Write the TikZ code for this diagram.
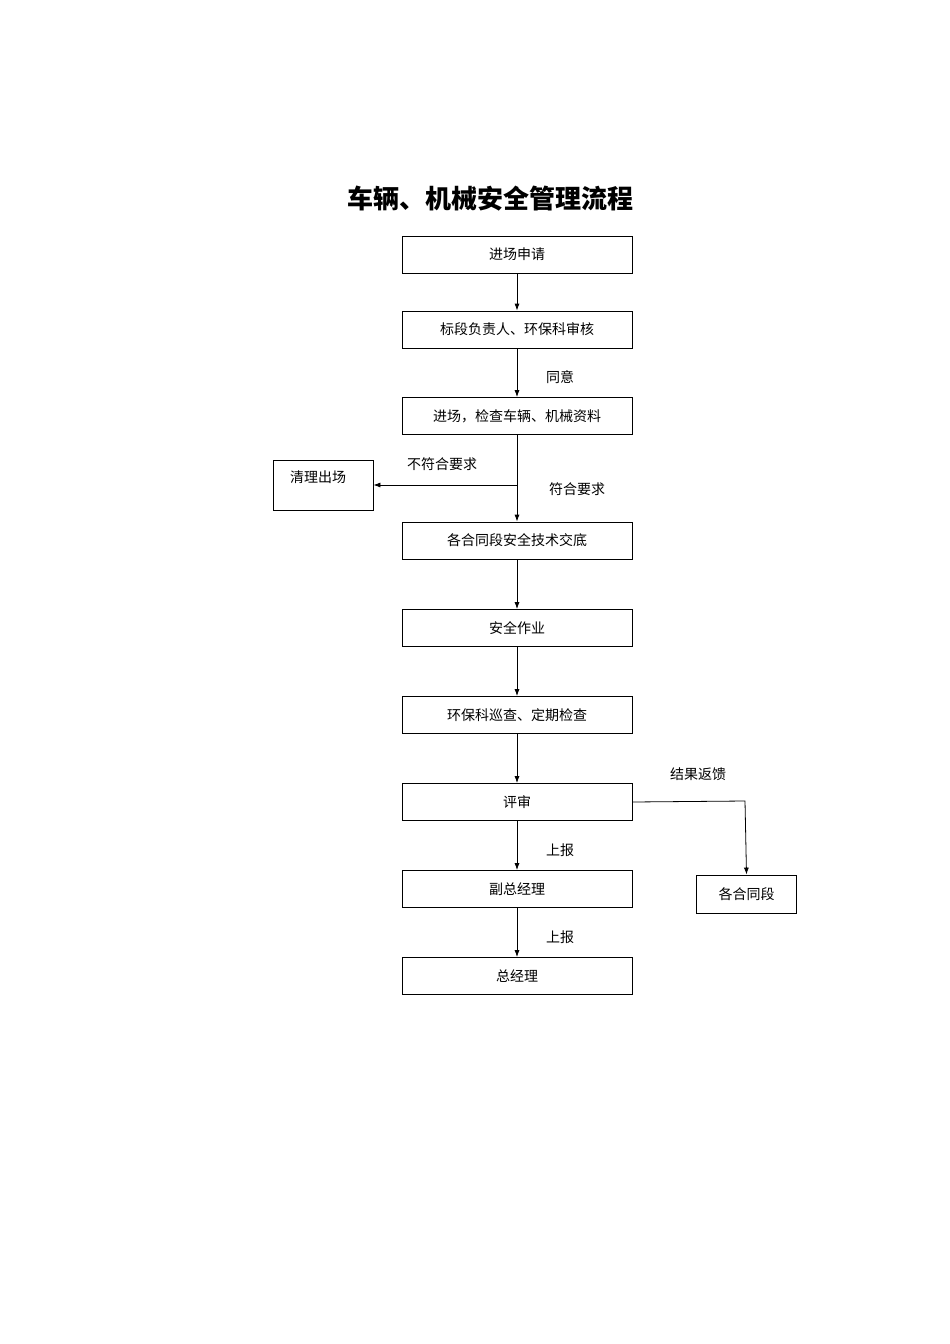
\documentclass[tikz,border=0pt]{standalone}
\usepackage{fontspec}
\setmainfont{Noto Sans CJK SC}
\usetikzlibrary{arrows.meta}
\begin{document}
\begin{tikzpicture}[x=1pt,y=-1pt,
  box/.style={draw,line width=0.8pt,minimum width=230pt,minimum height=37pt,inner sep=0pt,font=\fontsize{14}{16}\selectfont},
  sbox/.style={draw,line width=0.8pt,minimum width=100pt,minimum height=38pt,inner sep=0pt,font=\fontsize{14}{16}\selectfont},
  lab/.style={font=\fontsize{14}{16}\selectfont},
  arr/.style={line width=0.8pt,-{Latex[length=7pt,width=5pt]}}]
\useasboundingbox (0,0) rectangle (950,1344);
\node[font=\fontsize{26}{30}\selectfont\bfseries] (title) at (490,199) {车辆、机械安全管理流程};
\node[box] (b1) at (517,254.5) {进场申请};
\node[box] (b2) at (517,329.5) {标段负责人、环保科审核};
\node[box] (b3) at (517,416) {进场，检查车辆、机械资料};
\node[box] (b4) at (517,540.5) {各合同段安全技术交底};
\node[box] (b5) at (517,628) {安全作业};
\node[box] (b6) at (517,715) {环保科巡查、定期检查};
\node[box] (b7) at (517,802) {评审};
\node[box] (b8) at (517,889) {副总经理};
\node[box] (b9) at (517,976) {总经理};
\node[draw,line width=0.8pt,minimum width=100pt,minimum height=50pt] (c) at (323,485) {};
\node[lab] (ct) at (318,477) {清理出场};
\node[sbox] (d) at (746.5,894) {各合同段};
\coordinate (j) at (517,485);
\coordinate (k) at (745,801);
\draw[arr] (b1) -- (b2);
\draw[arr] (b2) -- (b3);
\draw[arr] (b3) -- (b4);
\draw[arr] (j) -- (c.east);
\draw[arr] (b4) -- (b5);
\draw[arr] (b5) -- (b6);
\draw[arr] (b6) -- (b7);
\draw[arr] (b7) -- (b8);
\draw[arr] (b8) -- (b9);
\draw[arr] (b7.east) -- (k) -- (d.north);
\node[lab] (l1) at (560,377) {同意};
\node[lab] (l2) at (442,464) {不符合要求};
\node[lab] (l3) at (577,489) {符合要求};
\node[lab] (l4) at (698,774) {结果返馈};
\node[lab] (l5) at (560,850) {上报};
\node[lab] (l6) at (560,937) {上报};
\end{tikzpicture}
\end{document}
